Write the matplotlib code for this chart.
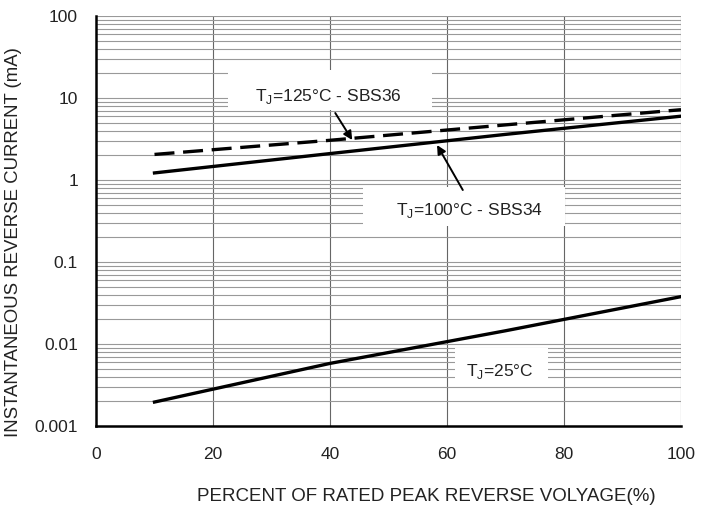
import matplotlib
matplotlib.use("Agg")
import matplotlib.pyplot as plt
from matplotlib.patches import Rectangle

plt.rcParams['font.family'] = ['Liberation Sans', 'DejaVu Sans']

# Data
x_pct = [10, 40, 70, 100]
i_125 = [2.05, 3.05, 4.7, 7.2]      # TJ=125°C - SBS36 (dashed)
i_100 = [1.22, 2.1, 3.6, 6.0]       # TJ=100°C - SBS34
i_25 = [0.00196, 0.0058, 0.0145, 0.0378]  # TJ=25°C

xticks = [0, 20, 40, 60, 80, 100]
yticks = [0.001, 0.01, 0.1, 1, 10, 100]
ytick_labels = ["0.001", "0.01", "0.1", "1", "10", "100"]

W, H = 714, 507
fig = plt.figure(figsize=(W/100, H/100), dpi=100)
ax = fig.add_axes([96/W, 1-426/H, (681-96)/W, (426-16)/H])
ax.set_yscale('log')
ax.set_xlim(0, 100)
ax.set_ylim(0.001, 100)

# grid
for xv in xticks[1:]:
    ax.axvline(xv, color='#666666', lw=0.8, zorder=1)
for dec in [0.001, 0.01, 0.1, 1, 10]:
    for m in range(1, 10):
        ax.axhline(dec * m, color='#999999', lw=0.8, zorder=1)
ax.axhline(100, color='#999999', lw=0.8, zorder=1)

# white label backgrounds covering the grid (pixel boxes)
for (x0, y0, x1, y1) in [(228, 70, 432, 110), (363, 187, 565, 226), (455, 348, 548, 386)]:
    r = Rectangle((x0/W, 1-y1/H), (x1-x0)/W, (y1-y0)/H, transform=fig.transFigure,
                  fc='white', ec='none', zorder=2)
    ax.add_patch(r)

ax.plot(x_pct, i_125, color='black', lw=2.4, ls=(0, (6, 2.6)), zorder=3)
ax.plot(x_pct, i_100, color='black', lw=2.4, zorder=3)
ax.plot(x_pct, i_25, color='black', lw=2.4, zorder=3)

ax.set_xticks(xticks)
ax.set_xticklabels([str(v) for v in xticks])
ax.set_yticks(yticks)
ax.set_yticklabels(ytick_labels)
ax.minorticks_off()
ax.tick_params(length=0, labelsize=12.5, colors='#222222')
ax.tick_params(axis='y', pad=13)
ax.tick_params(axis='x', pad=15)

for s in ['top', 'right']:
    ax.spines[s].set_visible(False)
ax.spines['left'].set_linewidth(1.8)
ax.spines['bottom'].set_linewidth(1.8)

ax.set_xlabel("PERCENT OF RATED PEAK REVERSE VOLYAGE(%)", fontsize=13.5, color='#222222')
ax.xaxis.set_label_coords(0.564, -0.151)
ax.set_ylabel("INSTANTANEOUS REVERSE CURRENT (mA)", fontsize=13.4, color='#222222')
ax.yaxis.set_label_coords(-0.1265, 0.449)

tfs = 12.5
ax.text(39.7, 10.5, r"T$_\mathregular{J}$=125°C - SBS36", fontsize=tfs, color='#222222',
        ha='center', va='center', zorder=4)
ax.text(63.8, 0.43, r"T$_\mathregular{J}$=100°C - SBS34", fontsize=tfs, color='#222222',
        ha='center', va='center', zorder=4)
ax.text(69.1, 0.0046, r"T$_\mathregular{J}$=25°C", fontsize=tfs, color='#222222',
        ha='center', va='center', zorder=4)

arrow = dict(arrowstyle='-|>', color='black', lw=1.4, mutation_scale=13, shrinkA=0, shrinkB=0)
ax.annotate("", xy=(43.8, 3.07), xytext=(40.9, 6.56), arrowprops=arrow, zorder=4)
ax.annotate("", xy=(58.3, 2.67), xytext=(62.7, 0.755), arrowprops=arrow, zorder=4)

fig.savefig("out.png", dpi=100)
